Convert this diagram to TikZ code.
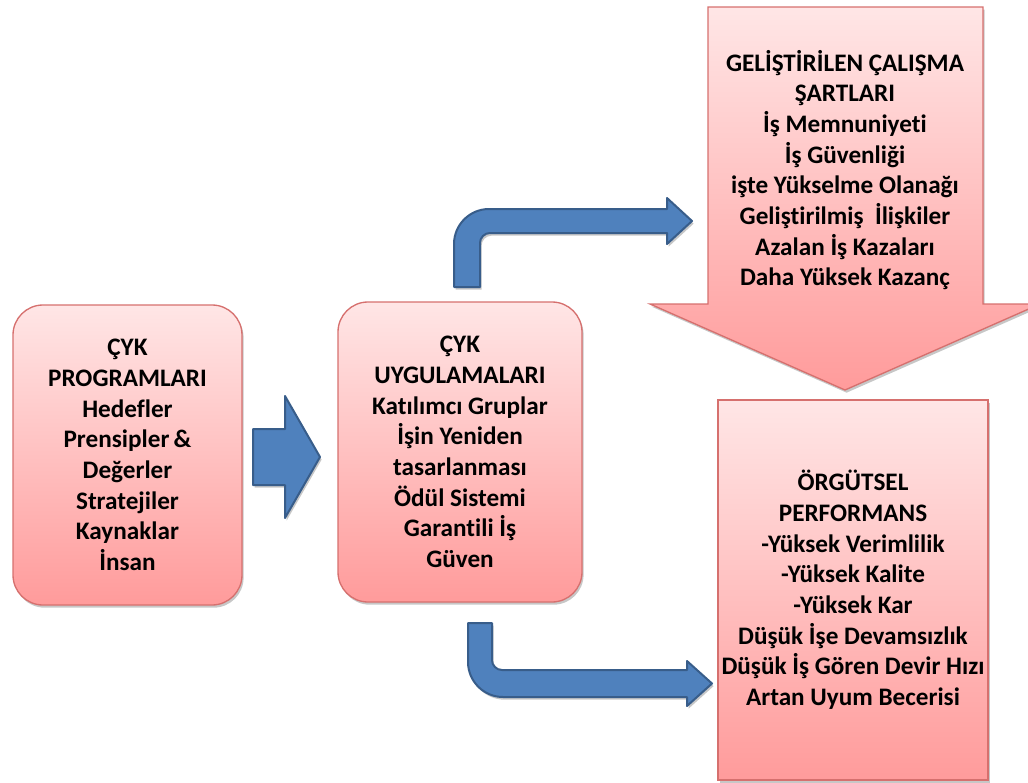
\documentclass[tikz,border=0pt]{standalone}
\usepackage{fontspec}
\setmainfont[Ligatures={NoCommon}]{Carlito}
\usetikzlibrary{shadows}
\definecolor{pinktop}{RGB}{255,230,230}
\definecolor{pinkbot}{RGB}{255,155,155}
\definecolor{pinkline}{RGB}{214,112,110}
\definecolor{bluefill}{RGB}{79,129,189}
\definecolor{blueline}{RGB}{56,93,138}
\tikzset{
  softshadow/.style={drop shadow={shadow xshift=1.2pt, shadow yshift=-2pt, opacity=0.22, fill=black}},
  pinkbox/.style={draw=pinkline, line width=1pt, top color=pinktop, bottom color=pinkbot,
    softshadow, align=center, inner sep=0pt},
  bluearrow/.style={draw=blueline, line width=1.5pt, fill=bluefill, line join=round, softshadow},
  txt/.style={align=center, font=\bfseries\fontsize{18.9}{23}\selectfont, text=black}
}
\begin{document}
\begin{tikzpicture}[x=0.75pt, y=-0.75pt]
\useasboundingbox (0,0) rectangle (1028,782);
\clip (0,0) rectangle (1028,782);

% programmes box
\node[pinkbox, rounded corners=22.5pt, minimum width=171.75pt, minimum height=225pt] (L) at (127.5,455) {};
\node[txt] (Ltxt) at (L.center) {ÇYK\\PROGRAMLARI\\Hedefler\\Prensipler\,\&\\Değerler\\Stratejiler\\Kaynaklar\\İnsan};

% applications box
\node[pinkbox, rounded corners=22.5pt, minimum width=183pt, minimum height=225pt] (M) at (460,452) {};
\node[txt] (Mtxt) at (M.center) {ÇYK\\UYGULAMALARI\\Katılımcı Gruplar\\İşin Yeniden\\tasarlanması\\Ödül Sistemi\\Garantili İş\\Güven};

% organisational performance box
\node[pinkbox, minimum width=202.5pt, minimum height=285pt] (R) at (853,590) {};
\node[txt] (Rtxt) at (R.center) {ÖRGÜTSEL\\PERFORMANS\\-Yüksek Verimlilik\\-Yüksek Kalite\\-Yüksek Kar\\Düşük İşe Devamsızlık\\Düşük İş Gören Devir Hızı\\Artan Uyum Becerisi};

% working conditions: downward block arrow
\path[draw=pinkline, line width=1pt, top color=pinktop, bottom color=pinkbot, softshadow]
  (708,7) -- (983,7) -- (983,304) -- (1040,304) -- (845,390) -- (650,304) -- (708,304) -- cycle;
\node[txt] (T) at (845,170) {GELİŞTİRİLEN ÇALIŞMA\\ŞARTLARI\\İş Memnuniyeti\\İş Güvenliği\\işte Yükselme Olanağı\\Geliştirilmiş~ İlişkiler\\Azalan İş Kazaları\\Daha Yüksek Kazanç};

% straight block arrow between the two rounded boxes
\path[bluearrow]
  (253,429) -- (285,429) -- (285,396) -- (320,457) -- (285,518) -- (285,485) -- (253,485) -- cycle;

% bent arrow up and to the right
\path[bluearrow]
  (454,287) -- (454,244) .. controls (454,224.7) and (469.7,209) .. (489,209)
  -- (667,209) -- (667,198) -- (692,221) -- (667,244) -- (667,233)
  -- (490,233) .. controls (484.5,233) and (480,237.5) .. (480,243)
  -- (480,287) -- cycle;

% bent arrow down and to the right
\path[bluearrow]
  (468,623) -- (468,662) .. controls (468,681.3) and (483.7,697) .. (503,697)
  -- (687,697) -- (687,706) -- (712,683.5) -- (687,661) -- (687,670)
  -- (502,670) .. controls (496.5,670) and (492,665.5) .. (492,660)
  -- (492,623) -- cycle;
\end{tikzpicture}
\end{document}
